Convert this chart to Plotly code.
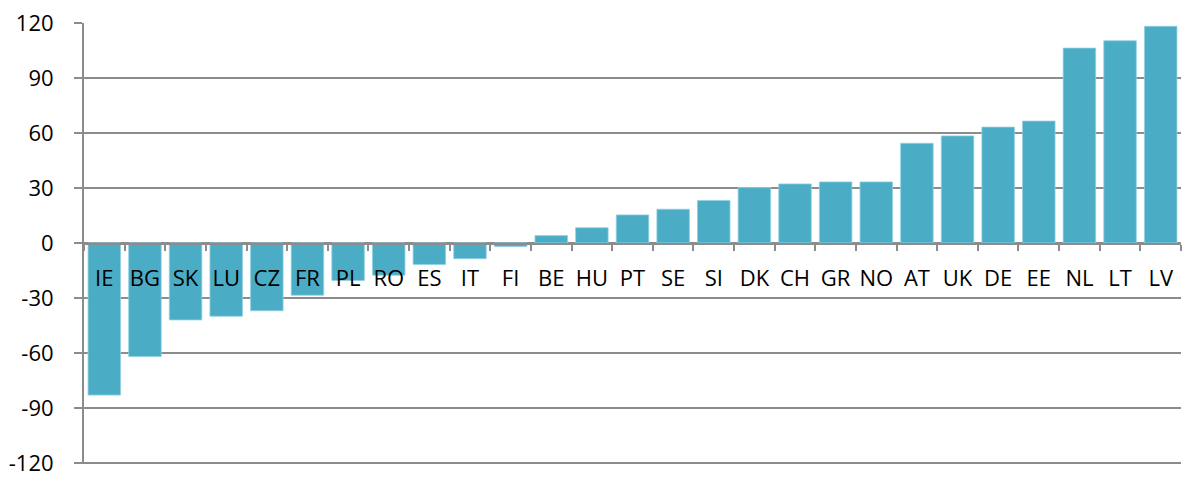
import plotly.graph_objects as go

countries = ["IE", "BG", "SK", "LU", "CZ", "FR", "PL", "RO", "ES", "IT", "FI",
             "BE", "HU", "PT", "SE", "SI", "DK", "CH", "GR", "NO", "AT", "UK",
             "DE", "EE", "NL", "LT", "LV"]
values = [-83, -62, -42, -40, -37, -28.5, -20.5, -17.6, -11.7, -8.6, -2,
          4, 8.3, 15.3, 18.4, 23.2, 30.2, 32.2, 33.3, 33.3, 54.4, 58.4,
          63.2, 66.5, 106.3, 110.3, 118.2]
y_ticks = [-120, -90, -60, -30, 0, 30, 60, 90, 120]
y_labels = ["-120", "-90", "-60", "-30", "0", "30", "60", "90", "120"]

grey = "#8c8c8c"
font = "Open Sans, Carlito, Calibri, sans-serif"

fig = go.Figure()
fig.add_trace(go.Bar(
    x=countries,
    y=values,
    marker=dict(color="#4BACC6", line=dict(width=0.8, color="#8fd0e2")),
    width=0.8,
    hoverinfo="x+y",
))

fig.update_layout(
    width=1182,
    height=477,
    margin=dict(l=84, r=1, t=23, b=13),
    paper_bgcolor="white",
    plot_bgcolor="white",
    showlegend=False,
    font=dict(family=font, size=22, color="black"),
    xaxis=dict(
        type="category",
        anchor="free",
        position=0.5,
        showline=True,
        linecolor=grey,
        linewidth=2,
        ticks="outside",
        tickson="boundaries",
        ticklen=6,
        tickwidth=2,
        tickcolor=grey,
        tickangle=0,
        ticklabelstandoff=15,
        showgrid=False,
        tickfont=dict(size=22),
    ),
    yaxis=dict(
        range=[-120.6, 120],
        tickvals=y_ticks,
        ticktext=y_labels,
        ticks="outside",
        ticklen=8,
        tickwidth=2,
        tickcolor=grey,
        showgrid=True,
        gridcolor=grey,
        gridwidth=2,
        showline=True,
        linecolor=grey,
        linewidth=2,
        zeroline=False,
        automargin=False,
        ticklabeloverflow="allow",
        ticklabelstandoff=16,
        tickfont=dict(size=22),
    ),
)

fig.write_html("out.html",
               config={"displayModeBar": False},
               post_script="document.body.style.margin='0';document.body.style.overflow='hidden';")
